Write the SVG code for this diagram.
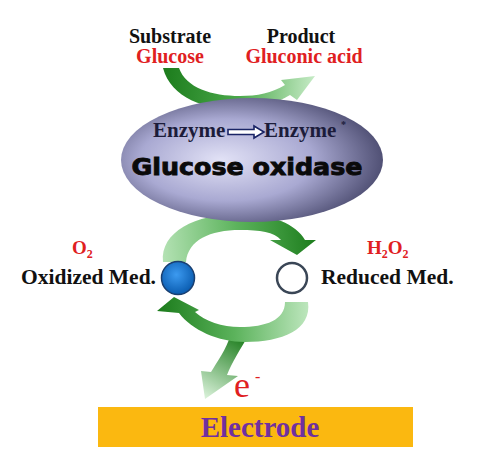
<svg xmlns="http://www.w3.org/2000/svg" width="481" height="469" viewBox="0 0 481 469">
  <defs>
    <style>
      .lbl { font-family: "Liberation Serif", "Times New Roman", serif; font-weight: bold; }
      .blk { fill: #111111; }
      .red { fill: #e0201f; }
    </style>
    <linearGradient id="gTop" gradientUnits="userSpaceOnUse" x1="165" y1="70" x2="316" y2="80">
      <stop offset="0" stop-color="#1d7d1d"/>
      <stop offset="0.5" stop-color="#4aa84a"/>
      <stop offset="1" stop-color="#c8ecc8"/>
    </linearGradient>
    <linearGradient id="gUp" gradientUnits="userSpaceOnUse" x1="163" y1="260" x2="316" y2="245">
      <stop offset="0" stop-color="#b4e2b4"/>
      <stop offset="0.5" stop-color="#5cb35c"/>
      <stop offset="1" stop-color="#1d7d1d"/>
    </linearGradient>
    <linearGradient id="gLow" gradientUnits="userSpaceOnUse" x1="310" y1="305" x2="160" y2="305">
      <stop offset="0" stop-color="#bfe7bf"/>
      <stop offset="0.5" stop-color="#5cb35c"/>
      <stop offset="1" stop-color="#1d7d1d"/>
    </linearGradient>
    <linearGradient id="gBot" gradientUnits="userSpaceOnUse" x1="240" y1="336" x2="205" y2="399">
      <stop offset="0" stop-color="#1d7d1d"/>
      <stop offset="1" stop-color="#dcf3dc"/>
    </linearGradient>
    <radialGradient id="gEll" cx="0.42" cy="0.5" r="0.6" fx="0.38" fy="0.5">
      <stop offset="0" stop-color="#e2e2f6"/>
      <stop offset="0.55" stop-color="#a9a9d2"/>
      <stop offset="1" stop-color="#4a4a6e"/>
    </radialGradient>
    <radialGradient id="gBlue" cx="0.45" cy="0.4" r="0.6">
      <stop offset="0" stop-color="#3c9af0"/>
      <stop offset="1" stop-color="#0a5cb0"/>
    </radialGradient>
  </defs>
  <rect width="481" height="469" fill="#ffffff"/>

  <g id="connectors">
    <path id="arrow-top" fill="url(#gTop)" d="M163,68 C171,98 205,110 240,110 C260,110 276,103 290,95 L297,100 L315,76 L281,80 L285,85 C272,93 257,96 240,96 C212,96 186,88 179,68 Z"/>
    <path id="arrow-upper" fill="url(#gUp)" d="M163,262 C160,232 195,214 240,214 C272,214 296,224 305,240 L316,240 L297,255 L270,240 L281,240 C274,232 260,230 240,230 C210,230 188,240 186,262 Z"/>
    <path id="arrow-bottom" fill="url(#gBot)" d="M231,334 C226,350 217,362 211,372 L201,371 L205,399 L238,376 L227,375 C232,362 240,350 248,336 Z"/>
    <path id="arrow-lower" fill="url(#gLow)" d="M308,302 C312,330 282,342 245,342 C218,342 192,330 179,313 L157,311 L174,297 L199,310 L195,312 C205,321 222,327 240,327 C266,327 285,320 285,302 Z"/>
  </g>

  <g id="substrate">
    <text class="lbl blk" x="170" y="43" font-size="20" text-anchor="middle">Substrate</text>
    <text class="lbl red" x="170" y="63" font-size="20" text-anchor="middle">Glucose</text>
  </g>
  <g id="product">
    <text class="lbl blk" x="301" y="43" font-size="20" text-anchor="middle">Product</text>
    <text class="lbl red" x="304" y="63" font-size="20" text-anchor="middle">Gluconic acid</text>
  </g>

  <g id="enzyme">
    <ellipse cx="252" cy="160" rx="131" ry="62" fill="url(#gEll)"/>
    <text class="lbl" x="153" y="137" font-size="21" fill="#1c1c3a">Enzyme</text>
    <path d="M228,129.5 H254 V126 L264,132 L254,138 V134.5 H228 Z" fill="#ffffff" stroke="#1a2466" stroke-width="1.6"/>
    <text class="lbl" x="264" y="137" font-size="21" fill="#1c1c3a">Enzyme</text>
    <text class="lbl" x="341" y="128" font-size="10" fill="#1c1c3a">*</text>
    <text x="247" y="175" font-family="'DejaVu Sans', 'Liberation Sans', sans-serif" font-weight="bold" font-size="23" fill="#0a0a0a" stroke="#0a0a0a" stroke-width="0.9" text-anchor="middle" textLength="231" lengthAdjust="spacingAndGlyphs">Glucose oxidase</text>
  </g>

  <g id="oxidized">
    <circle cx="178" cy="278" r="16.5" fill="url(#gBlue)" stroke="#1a3f70" stroke-width="1.5"/>
    <text class="lbl blk" x="156" y="284" font-size="21.5" text-anchor="end">Oxidized Med.</text>
    <text class="lbl red" x="72" y="254" font-size="19">O<tspan font-size="12" dy="4">2</tspan></text>
  </g>

  <g id="reduced">
    <circle cx="292" cy="278" r="15" fill="#ffffff" stroke="#3a4656" stroke-width="2.5"/>
    <text class="lbl blk" x="321" y="284" font-size="21.5">Reduced Med.</text>
    <text class="lbl red" x="367" y="254" font-size="19">H<tspan font-size="12" dy="4">2</tspan><tspan dy="-4">O</tspan><tspan font-size="12" dy="4">2</tspan></text>
  </g>

  <g id="electron">
    <text x="234" y="397" font-family="'Liberation Serif', 'Times New Roman', serif" font-size="36" fill="#e0201f">e</text>
    <text x="255" y="382" font-family="'Liberation Serif', 'Times New Roman', serif" font-size="16" fill="#e0201f">-</text>
  </g>

  <g id="electrode">
    <rect x="98" y="407" width="315" height="40" fill="#fbb810"/>
    <text class="lbl" x="260" y="437" font-size="29" fill="#7030a0" text-anchor="middle">Electrode</text>
  </g>
</svg>
